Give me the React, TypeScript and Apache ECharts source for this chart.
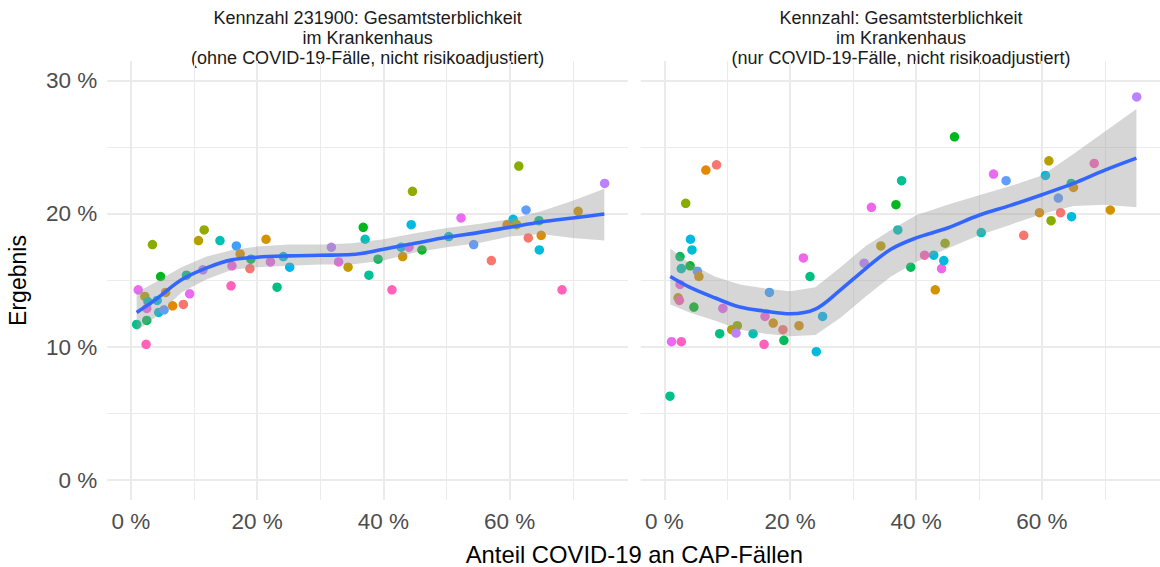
import React, { useEffect, useRef } from "react";
import * as echarts from "echarts";

// ---- Data ----
// Share of COVID-19 among CAP cases (%) per hospital
const share = [
  0.9, 1.15, 2.2, 2.4, 2.5, 2.7, 2.5, 2.7, 3.4, 4.15, 4.4, 4.1, 4.7, 5.25, 5.5, 6.6,
  8.3, 8.8, 9.3, 10.7, 11.6, 11.4, 14.1, 15.85, 16.0, 16.7, 17.3, 18.85, 19.0, 21.4,
  22.1, 23.15, 24.15, 25.15, 31.75, 32.9, 34.4, 36.8, 37.1, 37.7, 39.15, 41.35, 42.8,
  43.05, 44.05, 44.4, 44.6, 46.1, 50.35, 52.3, 54.3, 57.1, 59.6, 60.55, 61.1, 61.45,
  62.6, 62.95, 64.65, 65.0, 64.7, 68.3, 70.85, 75.05,
];
// Result (%) without COVID-19 cases (left panel); null = hidden
const resultOhne = [
  11.7, 14.3, 13.8, 10.2, 12.0, 13.4, 12.9, null, 17.7, 13.5, 12.6, null, 15.3, 12.8, 14.1, 13.1,
  13.2, 15.4, 14.0, 18.0, 18.8, 15.8, 18.0, 14.6, 16.1, 17.6, 17.0, 15.9, 16.6, 18.1,
  16.4, 14.5, 16.8, 16.0, 17.5, 16.4, 16.0, 19.0, 18.1, 15.4, 16.6, 14.3, 17.5,
  16.8, 17.5, 19.2, 21.7, 17.3, 18.3, 19.7, 17.7, 16.5, 19.2, 19.6, 19.2, 23.6,
  20.3, 18.2, 19.5, 18.4, 17.3, 14.3, 20.2, 22.3,
];
// Result (%) only COVID-19 cases (right panel)
const resultNur = [
  6.3, 10.4, 13.7, 13.5, 16.8, 15.9, 14.7, 10.4, 20.8, 18.1, 17.3, 16.1, 13.0, 15.7, 15.3, 23.3,
  23.7, 11.0, 12.9, 11.3, 11.6, 11.05, 11.0, 10.2, 12.3, 14.1, 11.8, 11.3, 10.5, 11.6,
  16.7, 15.3, 9.65, 12.3, 16.3, 20.5, 17.6, 20.7, 18.8, 22.5, 16.0, 16.9, 16.9,
  14.3, 15.9, 16.5, 17.8, 25.8, 18.6, 23.0, 22.5, 18.4, 20.1, 22.9, 24.0, 19.5,
  21.2, 20.1, 22.3, 22.0, 19.8, 23.8, 20.3, 28.8,
];
// Hospital colour (hue angle of the ggplot-like hue palette)
const hospitalHue = [
  165, 305, 75, 340, 145, 185, 315, 335, 100, 215, 205, 130, 130, 255, 55, 40,
  15, 160, 305, 75, 95, 280, 185, 340, 320, 250, 50, 15, 145, 55,
  310, 160, 210, 225, 280, 310, 70, 130, 190, 170, 145, 340, 205,
  55, 310, 215, 95, 130, 190, 305, 255, 15, 50, 215, 75, 100,
  255, 15, 160, 45, 210, 340, 55, 280,
];

// Smoothed fit (loess) and confidence band, left panel
const fitXOhne = [0.9, 4, 8, 12, 16, 20, 25, 30, 35, 40, 45, 50, 55, 60, 65, 70, 75];
const fitOhne = [12.6, 13.6, 15.05, 15.95, 16.55, 16.75, 16.85, 16.9, 16.95, 17.35, 17.8, 18.25, 18.6, 19.0, 19.4, 19.7, 20.0];
const upperOhne = [14.1, 14.9, 16.0, 16.8, 17.3, 17.55, 17.7, 17.7, 17.8, 18.1, 18.55, 18.95, 19.25, 19.6, 20.2, 21.0, 21.9];
const lowerOhne = [11.2, 12.3, 14.1, 15.1, 15.8, 16.0, 16.1, 16.2, 16.2, 16.5, 17.1, 17.5, 17.8, 18.3, 18.5, 18.2, 18.0];

// Smoothed fit (loess) and confidence band, right panel
const fitXNur = [0.95, 4, 8, 12, 16, 20, 24, 28, 32, 36, 40, 45, 50, 55, 60, 65, 70, 75];
const fitNur = [15.3, 14.5, 13.7, 13.0, 12.7, 12.5, 12.85, 14.3, 15.9, 17.35, 18.2, 18.95, 19.9, 20.65, 21.45, 22.3, 23.3, 24.2];
const upperNur = [17.4, 16.3, 15.3, 14.7, 14.4, 14.2, 14.5, 16.0, 17.6, 18.8, 19.9, 20.7, 21.4, 22.1, 22.9, 24.5, 26.2, 27.9];
const lowerNur = [13.2, 12.6, 12.0, 11.3, 11.0, 10.8, 10.9, 12.2, 13.8, 15.3, 16.4, 17.4, 18.4, 19.2, 20.0, 20.6, 20.7, 20.5];

// Axis ticks and grid lines
const xTicks = [0, 20, 40, 60];
const xGridLines = [0, 10, 20, 30, 40, 50, 60, 70];
const yTicks = [0, 10, 20, 30];
const yGridLines = [0, 5, 10, 15, 20, 25, 30];

const panelTitles = [
  "Kennzahl 231900: Gesamtsterblichkeit\nim Krankenhaus\n(ohne COVID-19-Fälle, nicht risikoadjustiert)",
  "Kennzahl: Gesamtsterblichkeit\nim Krankenhaus\n(nur COVID-19-Fälle, nicht risikoadjustiert)",
];
const xTitle = "Anteil COVID-19 an CAP-Fällen";
const yTitle = "Ergebnis";

// ---- helpers ----
function hcl(h: number, c = 100, l = 65): string {
  const hr = (h * Math.PI) / 180;
  const U = c * Math.cos(hr);
  const V = c * Math.sin(hr);
  const Xn = 95.047, Yn = 100, Zn = 108.883;
  const d = Xn + 15 * Yn + 3 * Zn;
  const un = (4 * Xn) / d;
  const vn = (9 * Yn) / d;
  const Y = Yn * Math.pow((l + 16) / 116, 3);
  const u = U / (13 * l) + un;
  const v = V / (13 * l) + vn;
  const X = (9 * Y * u) / (4 * v);
  const Z = (Y * (12 - 3 * u - 20 * v)) / (4 * v);
  const x = X / 100, y = Y / 100, z = Z / 100;
  const lin = [
    3.240479 * x - 1.53715 * y - 0.498535 * z,
    -0.969256 * x + 1.875992 * y + 0.041556 * z,
    0.055648 * x - 0.204043 * y + 1.057311 * z,
  ];
  const hex = lin
    .map((t) => {
      let s = t <= 0.0031308 ? 12.92 * t : 1.055 * Math.pow(t, 1 / 2.4) - 0.055;
      s = Math.max(0, Math.min(1, s));
      return Math.round(s * 255).toString(16).padStart(2, "0");
    })
    .join("");
  return "#" + hex;
}

const FONT = "'Liberation Sans', Arial, sans-serif";
const GRID_LEFT = [107.3, 640.7];
const GRID_TOP = 61;
const GRID_W = 520.7;
const GRID_H = 439;

export default function App() {
  const ref = useRef<HTMLDivElement>(null);

  useEffect(() => {
    if (!ref.current) return;
    const chart = echarts.init(ref.current, undefined, { renderer: "svg" });

    const panels = [
      { ys: resultOhne, fx: fitXOhne, fit: fitOhne, up: upperOhne, lo: lowerOhne },
      { ys: resultNur, fx: fitXNur, fit: fitNur, up: upperNur, lo: lowerNur },
    ];

    const series: any[] = [];
    panels.forEach((p, i) => {
      // grid lines
      series.push({
        type: "scatter",
        xAxisIndex: i,
        yAxisIndex: i,
        data: [],
        silent: true,
        z: 1,
        markLine: {
          silent: true,
          z: 1,
          symbol: ["none", "none"],
          label: { show: false },
          emphasis: { disabled: true },
          lineStyle: { color: "#EBEBEB", type: "solid", width: 1 },
          data: [
            ...xGridLines.map((v) => ({
              xAxis: v,
              lineStyle: { color: "#EBEBEB", type: "solid", width: xTicks.includes(v) ? 2 : 1 },
            })),
            ...yGridLines.map((v) => ({
              yAxis: v,
              lineStyle: { color: "#EBEBEB", type: "solid", width: yTicks.includes(v) ? 2 : 1 },
            })),
          ],
        },
      });
      // points
      const pts: any[] = [];
      share.forEach((x, k) => {
        const y = p.ys[k];
        if (y === null || y === undefined) return;
        pts.push({ value: [x, y], itemStyle: { color: hcl(hospitalHue[k]), opacity: 1 } });
      });
      series.push({
        type: "scatter",
        xAxisIndex: i,
        yAxisIndex: i,
        data: pts,
        symbolSize: 9.5,
        itemStyle: { opacity: 1 },
        z: 10,
        silent: true,
      });
      // confidence band as polygon built through the axes' scales
      const bandPts = [
        ...p.fx.map((x, k) => [x, p.up[k]]),
        ...p.fx.map((x, k) => [x, p.lo[k]]).reverse(),
      ];
      series.push({
        type: "custom",
        xAxisIndex: i,
        yAxisIndex: i,
        coordinateSystem: "cartesian2d",
        data: [0],
        z: 11,
        silent: true,
        renderItem: (_params: any, api: any) => ({
          type: "polygon",
          shape: { points: bandPts.map((pt) => api.coord(pt)) },
          style: { fill: "rgba(153,153,153,0.4)", stroke: "none" },
        }),
      });
      // fit line
      series.push({
        type: "line",
        xAxisIndex: i,
        yAxisIndex: i,
        data: p.fx.map((x, k) => [x, p.fit[k]]),
        symbol: "none",
        smooth: 0.35,
        lineStyle: { color: "#3366FF", width: 3.6 },
        z: 12,
        silent: true,
      });
    });

    const option: any = {
      animation: false,
      grid: GRID_LEFT.map((left) => ({
        left,
        top: GRID_TOP,
        width: GRID_W,
        height: GRID_H,
        containLabel: false,
      })),
      xAxis: [0, 1].map((i) => ({
        type: "value",
        gridIndex: i,
        min: -3.75,
        max: 78.75,
        axisLine: { show: false },
        axisTick: { show: false },
        splitLine: { show: false },
        axisLabel: {
          customValues: xTicks,
          formatter: (v: number) => `${v} %`,
          margin: 10,
          fontSize: 22.5,
          color: "#4D4D4D",
          fontFamily: FONT,
        },
      })),
      yAxis: [0, 1].map((i) => ({
        type: "value",
        gridIndex: i,
        min: -1.5,
        max: 31.5,
        axisLine: { show: false },
        axisTick: { show: false },
        splitLine: { show: false },
        axisLabel: {
          show: i === 0,
          customValues: yTicks,
          formatter: (v: number) => `${v} %`,
          margin: 10,
          fontSize: 22.5,
          color: "#4D4D4D",
          fontFamily: FONT,
        },
      })),
      series,
      graphic: [
        ...panelTitles.map((t, i) => ({
          type: "text",
          x: GRID_LEFT[i] + GRID_W / 2,
          y: 8,
          silent: true,
          style: {
            text: t,
            textAlign: "center",
            textVerticalAlign: "top",
            fontSize: 18,
            lineHeight: 20,
            fill: "#1A1A1A",
            fontFamily: FONT,
          },
        })),
        {
          type: "text",
          x: (GRID_LEFT[0] + GRID_LEFT[1] + GRID_W) / 2,
          y: 554,
          silent: true,
          style: {
            text: xTitle,
            textAlign: "center",
            textVerticalAlign: "middle",
            fontSize: 23.8,
            fill: "#000000",
            fontFamily: FONT,
          },
        },
        {
          type: "text",
          x: 18,
          y: GRID_TOP + GRID_H / 2,
          rotation: Math.PI / 2,
          silent: true,
          style: {
            text: yTitle,
            textAlign: "center",
            textVerticalAlign: "middle",
            fontSize: 23,
            fill: "#000000",
            fontFamily: FONT,
          },
        },
      ],
    };

    chart.setOption(option);
    return () => chart.dispose();
  }, []);

  return (
    <div
      ref={ref}
      style={{ position: "absolute", left: 0, top: 0, width: 1160, height: 567, background: "#FFFFFF" }}
    />
  );
}
